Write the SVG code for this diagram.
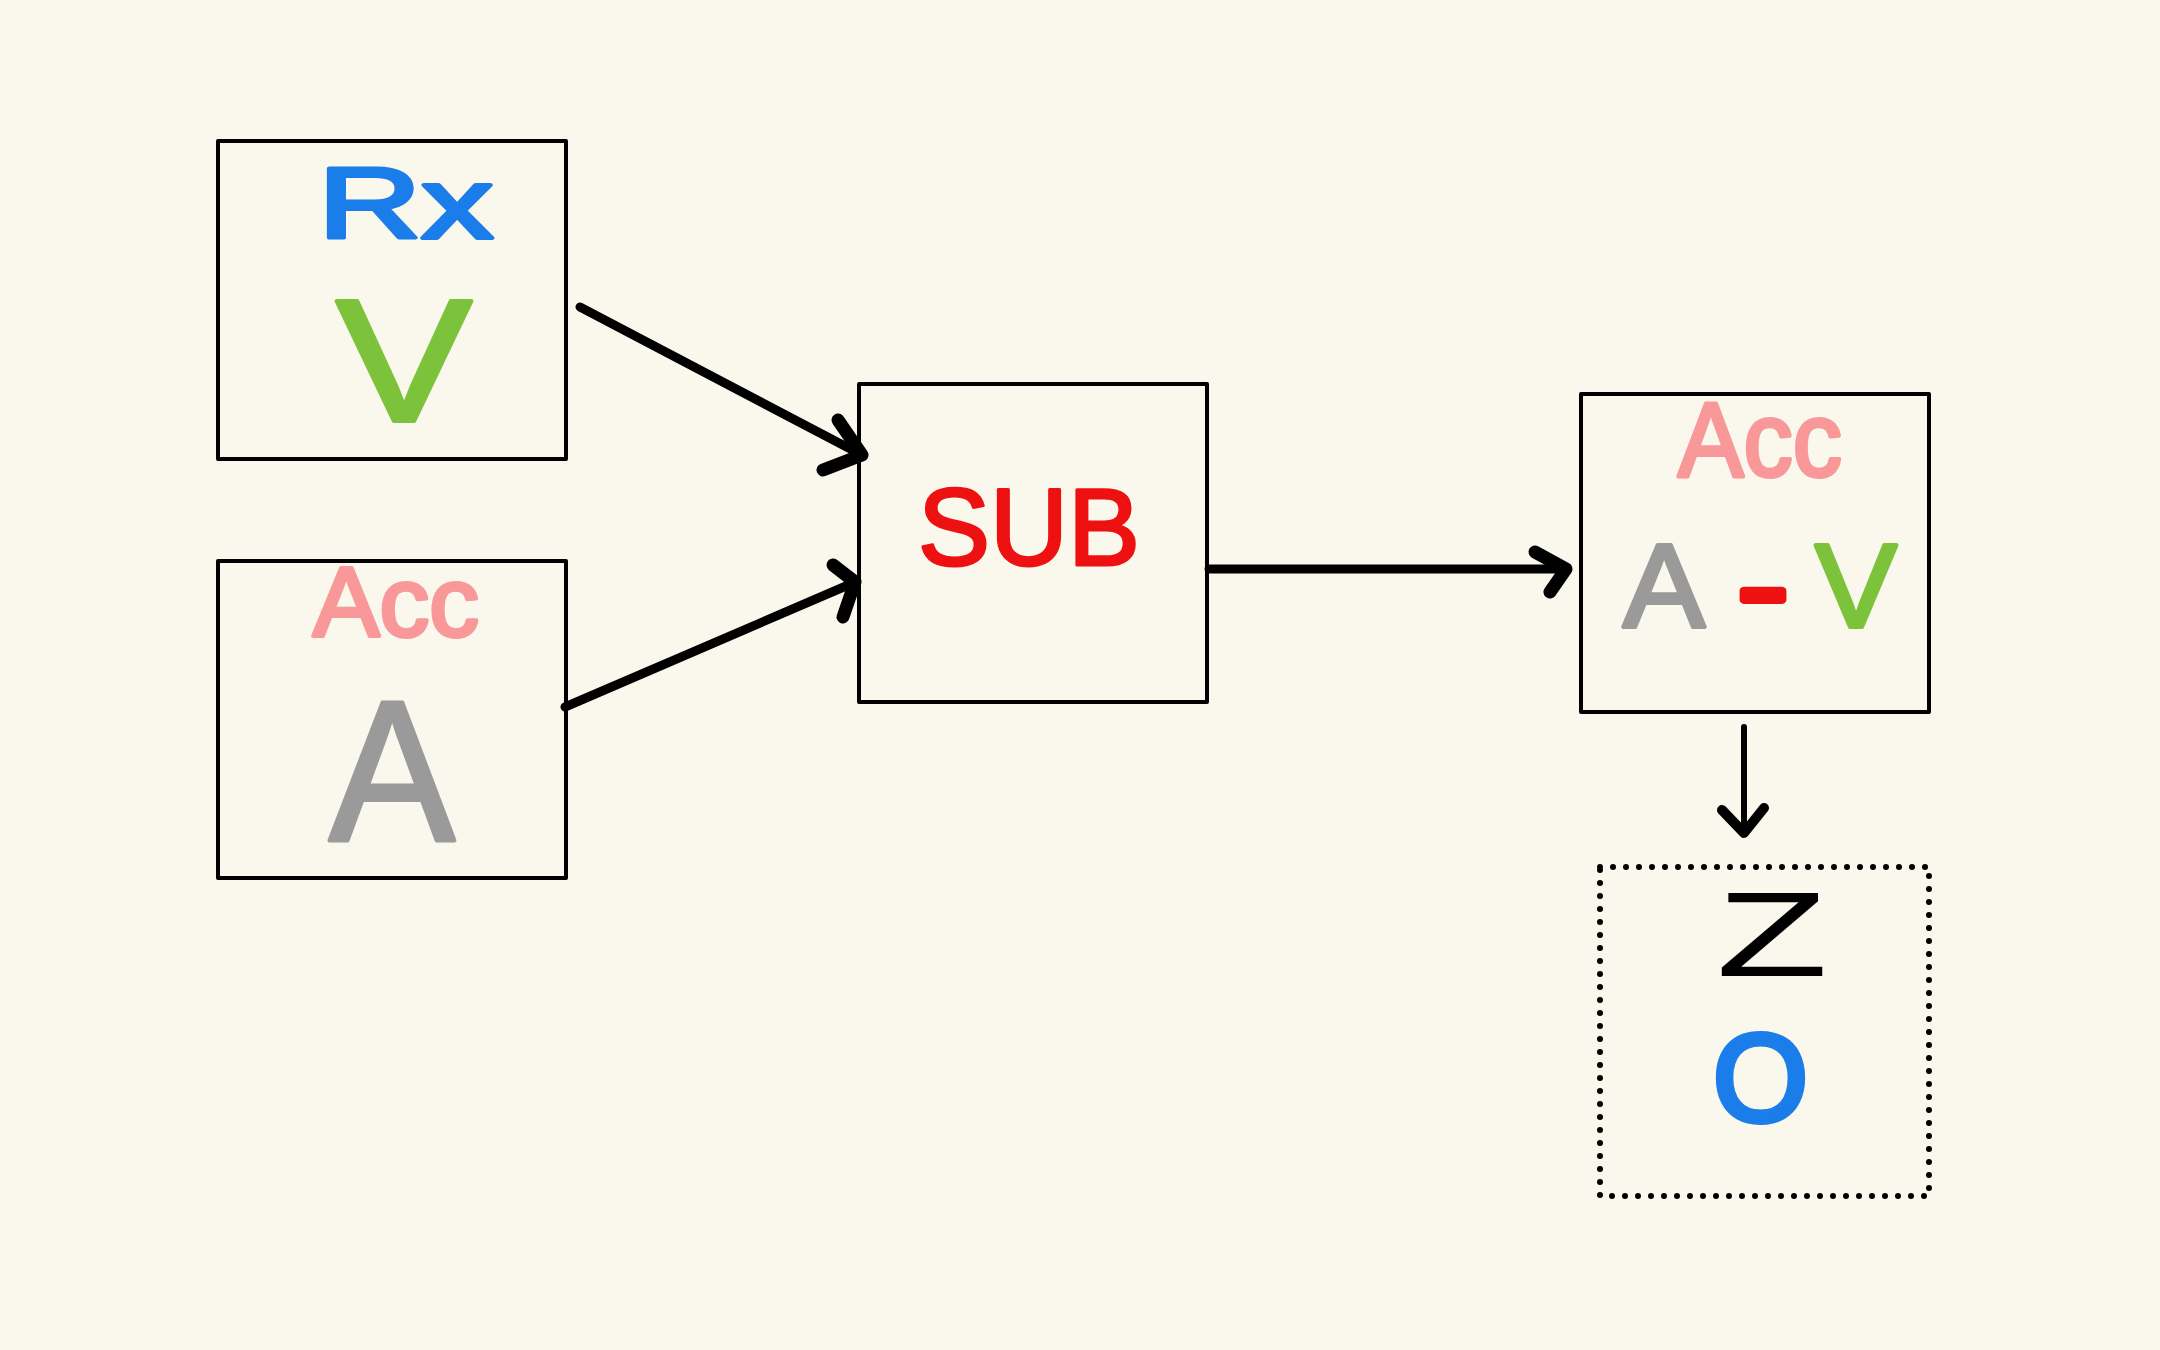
<svg xmlns="http://www.w3.org/2000/svg" width="2160" height="1350" viewBox="0 0 2160 1350">
<style>
.box{fill:none;stroke:#000;stroke-width:4;stroke-linejoin:round}
.dot{fill:none;stroke:#000;stroke-width:6;stroke-dasharray:0 13;stroke-linecap:round}
.t{font-family:"Liberation Sans",Arial,sans-serif;font-weight:normal;stroke-linejoin:round;stroke-linecap:round}
.blue{fill:#1a7de9;stroke:#1a7de9;stroke-width:4}
.green{fill:#7cc23b;stroke:#7cc23b;stroke-width:4}
.pink{fill:#f99898;stroke:#f99898;stroke-width:4}
.gray{fill:#9a9a9a;stroke:#9a9a9a;stroke-width:4}
.red{fill:#ee1111;stroke:#ee1111;stroke-width:3}
.conn{fill:none;stroke:#000;stroke-width:9;stroke-linecap:round;stroke-linejoin:round}
.head{fill:none;stroke:#000;stroke-width:13;stroke-linecap:round;stroke-linejoin:round}
</style>
<rect width="2160" height="1350" fill="#faf8ec"/>
<g id="node-rx">
<rect class="box" x="218" y="141" width="348" height="318"/>
<text class="t blue" x="318" y="238" font-size="100" textLength="175" lengthAdjust="spacingAndGlyphs">Rx</text>
<text class="t green" x="336" y="421" font-size="174" textLength="136" lengthAdjust="spacingAndGlyphs">V</text>
</g>
<g id="node-acc-a">
<rect class="box" x="218" y="561" width="348" height="317"/>
<text class="t pink" x="313" y="636" font-size="98" textLength="166" lengthAdjust="spacingAndGlyphs">Acc</text>
<text class="t gray" x="329" y="840" font-size="201" textLength="126" lengthAdjust="spacingAndGlyphs">A</text>
</g>
<g id="node-sub">
<rect class="box" x="859" y="384" width="348" height="318"/>
<text class="t red" x="918" y="565" font-size="110" textLength="222" lengthAdjust="spacingAndGlyphs">SUB</text>
</g>
<g id="node-acc-result">
<rect class="box" x="1581" y="394" width="348" height="318"/>
<text class="t pink" x="1678" y="476" font-size="106" textLength="164" lengthAdjust="spacingAndGlyphs">Acc</text>
<text class="t" font-size="118" y="627"><tspan class="gray" x="1623" textLength="82" lengthAdjust="spacingAndGlyphs">A</tspan><tspan class="red" x="1738" textLength="50" lengthAdjust="spacingAndGlyphs" style="stroke-width:8">-</tspan><tspan class="green" x="1815" textLength="82" lengthAdjust="spacingAndGlyphs">V</tspan></text>
</g>
<g id="node-zo">
<rect class="dot" x="1600" y="867" width="329" height="329"/>
<text x="1716" y="976" font-family="Liberation Sans,Arial,sans-serif" font-size="120" fill="#000" textLength="112" lengthAdjust="spacingAndGlyphs">Z</text>
<text class="t blue" x="1713" y="1121" font-size="124" textLength="95" lengthAdjust="spacingAndGlyphs" style="stroke-width:6">O</text>
</g>
<g id="connectors">
<path class="conn" d="M580 307 L860 454"/>
<path class="head" d="M838 420 L862 455 L823 470"/>
<path class="conn" d="M565 707 L853 583"/>
<path class="head" d="M833 565 L855 582 L843 617"/>
<path class="conn" d="M1209 569 L1563 569"/>
<path class="head" d="M1535 552 L1566 569 L1550 592"/>
<path class="conn" d="M1744 727 L1744 830" style="stroke-width:6"/>
<path class="head" d="M1722 810 L1744 833 L1764 808" style="stroke-width:10"/>
</g>
</svg>
